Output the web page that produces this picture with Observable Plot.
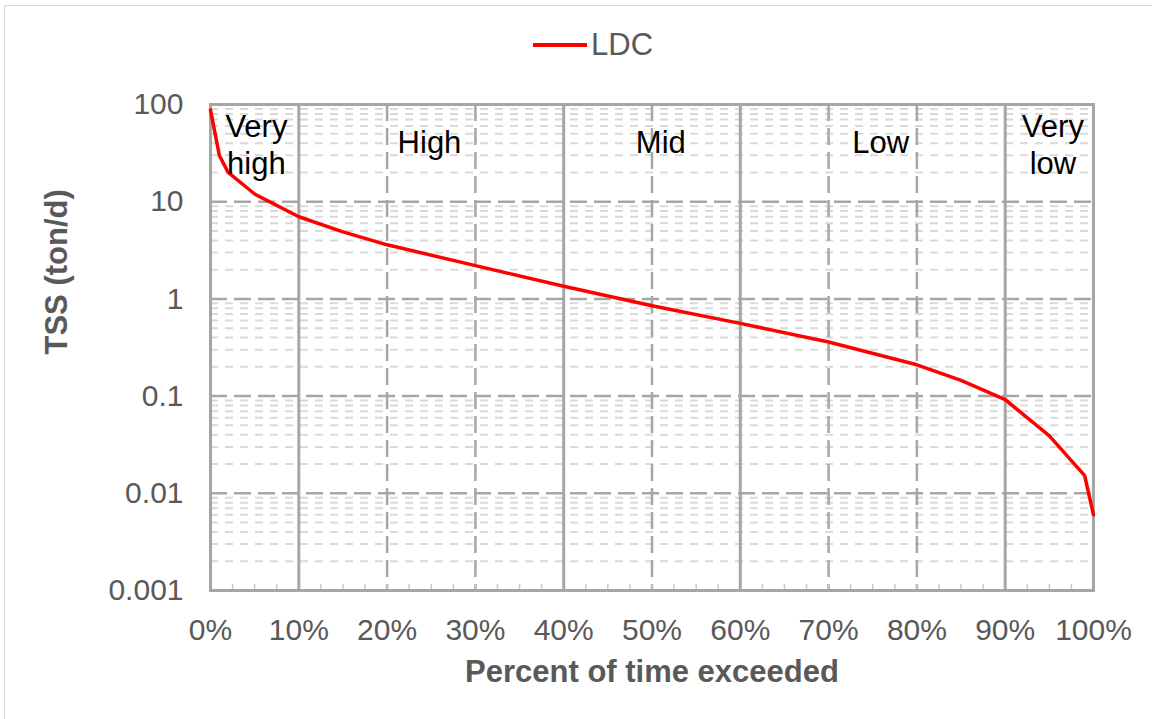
<!DOCTYPE html>
<html><head><meta charset="utf-8">
<script src="https://cdn.jsdelivr.net/npm/d3@7"></script>
<script src="https://cdn.jsdelivr.net/npm/@observablehq/plot@0.6"></script>
<style>
body{margin:0;background:#fff;font-family:"Liberation Sans",Arial,sans-serif;}
#wrap{position:relative;width:1152px;height:719px;overflow:hidden;background:#fff;}
#border{position:absolute;left:4px;top:5px;width:1160px;height:730px;border:1px solid #d9d9d9;pointer-events:none;}
#legend{height:80px;position:relative;}
#legend .sw{position:absolute;left:533px;top:43px;width:54px;height:4px;background:#ff0000;}
#legend .lb{position:absolute;left:591px;top:27px;font-size:31px;line-height:36px;color:#595959;}
#chart{position:relative;}
</style></head><body>
<div id="wrap"><div id="border"></div><div id="legend"></div><div id="chart"></div></div>
<script>
// Load duration curve values
const pct = [0, 1, 2, 5, 10, 15, 20, 30, 40, 50, 60, 70, 80, 85, 90, 95, 99, 100];
const tss = [88, 30, 20, 12, 7, 4.9, 3.6, 2.2, 1.35, 0.85, 0.56, 0.36, 0.21, 0.145, 0.092, 0.039, 0.0152, 0.006];
const seriesName = "LDC";

// Axis ticks
const xTicks = [0, 10, 20, 30, 40, 50, 60, 70, 80, 90, 100];
const yTicks = [0.001, 0.01, 0.1, 1, 10, 100];

// Flow zones
const zoneNames = ["Very\nhigh", "High", "Mid", "Low", "Very\nlow"];
const zoneCenters = [5.2, 24.8, 51, 75.9, 95.4];
const zoneLevels = [39.5, 42, 42, 42, 39.5];
const zoneBounds = [10, 40, 60, 90];
const dashedX = [20, 30, 50, 70, 80];

// minor gridline / tick values
const minorY = [];
for (const d of [0.001, 0.01, 0.1, 1, 10]) for (let k = 2; k <= 9; k++) minorY.push(+(d * k).toPrecision(3));
const minorX = d3.range(0, 100.01, 2.5);

const rows = pct.map((p, i) => ({pct: p, tss: tss[i]}));
const zones = zoneNames.map((n, i) => ({name: n, x: zoneCenters[i], y: zoneLevels[i]}));

document.getElementById("legend").innerHTML =
  `<div class="sw"></div><div class="lb">${seriesName}</div>`;

const plot = Plot.plot({
  width: 1152, height: 639,
  marginLeft: 210, marginRight: 59, marginTop: 24, marginBottom: 129,
  style: {fontFamily: "'Liberation Sans', Arial, sans-serif", fontSize: "30px", color: "#595959", background: "transparent", overflow: "visible"},
  x: {domain: [0, 100]},
  y: {type: "log", domain: [0.001, 100]},
  marks: [
    Plot.ruleY(minorY, {stroke: "#d9d9d9", strokeWidth: 2, strokeDasharray: "8,7"}),
    Plot.ruleY(yTicks, {stroke: "#a6a6a6", strokeWidth: 2.5, strokeDasharray: "17,7"}),
    Plot.ruleX(dashedX, {stroke: "#a6a6a6", strokeWidth: 2.5, strokeDasharray: "17,7"}),
    Plot.ruleX(minorX, {stroke: "#c8c8c8", strokeWidth: 1.5, insetTop: 480}),
    Plot.ruleX(zoneBounds, {stroke: "#a6a6a6", strokeWidth: 3}),
    Plot.frame({stroke: "#a6a6a6", strokeWidth: 3}),
    Plot.line(rows, {x: "pct", y: "tss", stroke: "#ff0000", strokeWidth: 3.5}),
    Plot.text(zones, {x: "x", y: "y", text: "name", fontSize: 31, fill: "#000", lineHeight: 1.2}),
    Plot.axisX({ticks: xTicks, tickFormat: d => d + "%", tickSize: 0, tickPadding: 28, label: null, fontSize: 30}),
    Plot.axisY({ticks: yTicks, tickFormat: d3.format("~g"), tickSize: 0, tickPadding: 27, label: null, fontSize: 30}),
    Plot.text(["Percent of time exceeded"], {frameAnchor: "bottom", dy: 91, fontWeight: "bold", fontSize: 31, fill: "#595959"}),
    Plot.text(["TSS (ton/d)"], {frameAnchor: "left", dx: -153, dy: 7, rotate: -90, fontWeight: "bold", fontSize: 31, fill: "#595959"})
  ]
});
document.getElementById("chart").appendChild(plot);
</script>
</body></html>
